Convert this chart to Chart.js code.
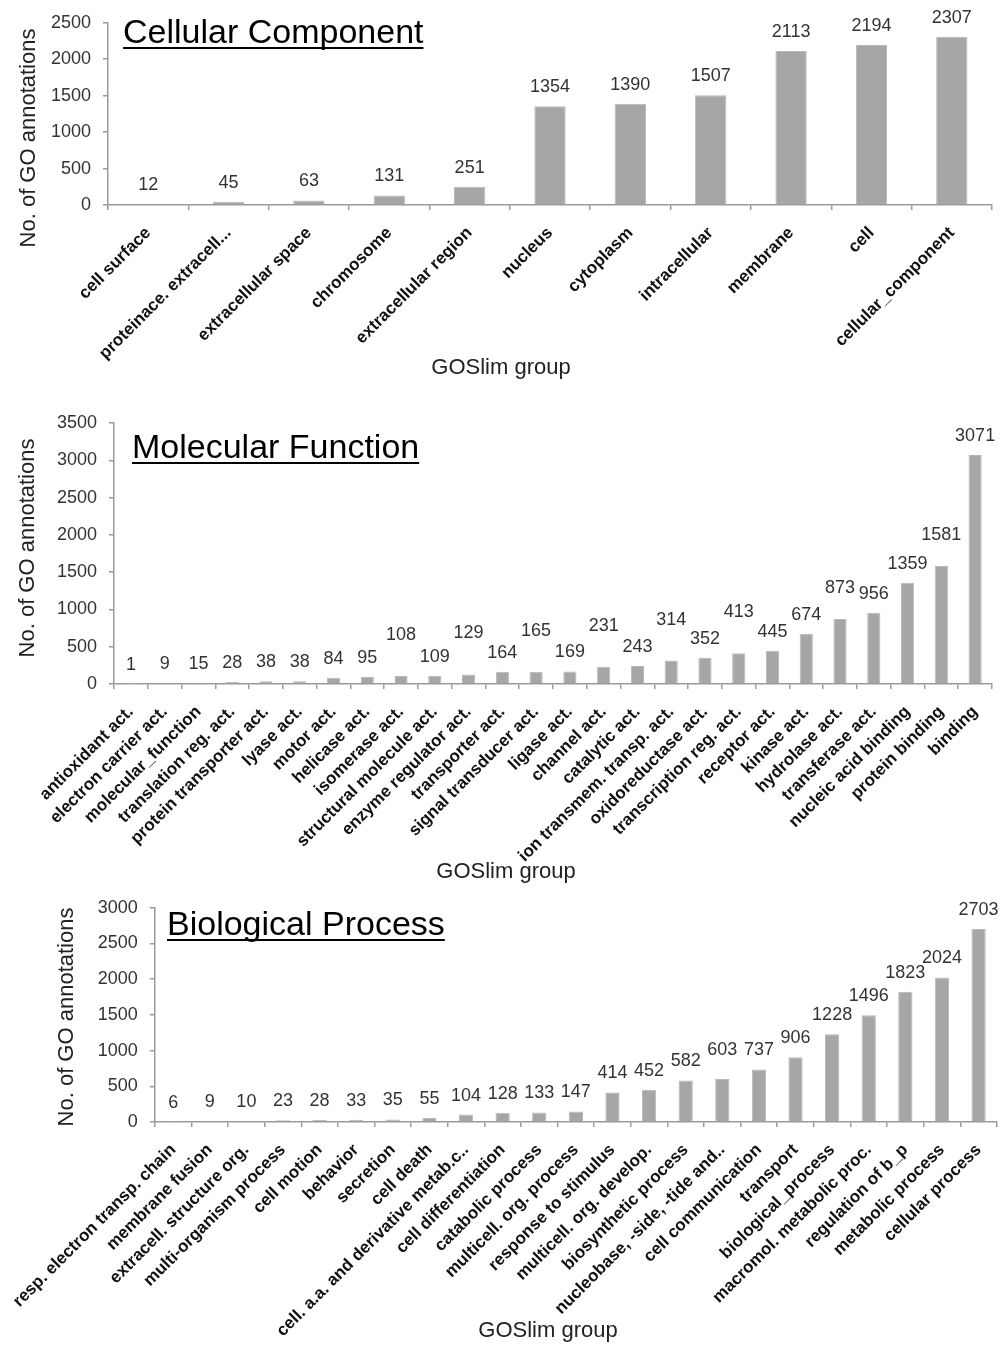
<!DOCTYPE html>
<html>
<head>
<meta charset="utf-8">
<script src="https://cdn.jsdelivr.net/npm/chart.js@4.4.1/dist/chart.umd.min.js"></script>
<style>
  body { margin: 0; background: #fff; }
  #wrap { position: relative; width: 1006px; height: 1345px; }
  canvas { position: absolute; left: 0; }
</style>
</head>
<body>
<div id="wrap">
  <canvas id="ccChart" width="1006" height="390" style="top:0px"></canvas>
  <canvas id="mfChart" width="1006" height="495" style="top:390px"></canvas>
  <canvas id="bpChart" width="1006" height="460" style="top:885px"></canvas>
</div>
<script>
// Cellular Component
const ccLabels = ["cell surface", "proteinace. extracell...", "extracellular space", "chromosome", "extracellular region",
    "nucleus", "cytoplasm", "intracellular", "membrane", "cell", "cellular_component"];
const ccCounts = [12, 45, 63, 131, 251, 1354, 1390, 1507, 2113, 2194, 2307];

// Molecular Function
const mfLabels = ["antioxidant act.", "electron carrier act.", "molecular_function", "translation reg. act.",
    "protein transporter act.", "lyase act.", "motor act.", "helicase act.", "isomerase act.",
    "structural molecule act.", "enzyme regulator act.", "transporter act.", "signal transducer act.",
    "ligase act.", "channel act.", "catalytic act.", "ion transmem. transp. act.", "oxidoreductase act.",
    "transcription reg. act.", "receptor act.", "kinase act.", "hydrolase act.", "transferase act.",
    "nucleic acid binding", "protein binding", "binding"];
const mfCounts = [1, 9, 15, 28, 38, 38, 84, 95, 108, 109, 129, 164, 165, 169, 231, 243, 314, 352, 413, 445,
    674, 873, 956, 1359, 1581, 3071];

// Biological Process
const bpLabels = ["resp. electron transp. chain", "membrane fusion", "extracell. structure org.",
    "multi-organism process", "cell motion", "behavior", "secretion", "cell death",
    "cell. a.a. and derivative metab.c..", "cell differentiation", "catabolic process",
    "multicell. org. process", "response to stimulus", "multicell. org. develop.", "biosynthetic process",
    "nucleobase, -side, -tide and..", "cell communication", "transport", "biological_process",
    "macromol. metabolic proc.", "regulation of b_p", "metabolic process", "cellular process"];
const bpCounts = [6, 9, 10, 23, 28, 33, 35, 55, 104, 128, 133, 147, 414, 452, 582, 603, 737, 906, 1228,
    1496, 1823, 2024, 2703];

const yMaxes = [2500, 3500, 3000];

const FONT = "'Liberation Sans', Arial, sans-serif";
const AXIS = "#9a9a9a";
const BAR = "#a6a6a6";

// value labels, panel heading and axis titles
const panelText = {
    id: "panelText",
    afterDraw(chart, args, opts) {
        const ctx = chart.ctx;
        const meta = chart.getDatasetMeta(0);
        const values = chart.data.datasets[0].data;
        ctx.save();
        ctx.fillStyle = "#333";
        ctx.font = "18px " + FONT;
        ctx.textAlign = "center";
        ctx.textBaseline = "middle";
        meta.data.forEach((bar, i) => {
            const lift = opts.lift[i] || 0;
            ctx.fillText(values[i], bar.x, bar.y - 19 - lift);
        });

        ctx.fillStyle = "#000";
        ctx.font = "34px " + FONT;
        ctx.textAlign = "left";
        ctx.textBaseline = "alphabetic";
        ctx.fillText(opts.heading, opts.headX, opts.headY);
        const w = ctx.measureText(opts.heading).width;
        ctx.fillRect(opts.headX, opts.headY + 4, w, 2);

        ctx.fillStyle = "#222";
        ctx.font = "22px " + FONT;
        ctx.textAlign = "center";
        ctx.textBaseline = "middle";
        ctx.save();
        ctx.translate(opts.yTitleX, opts.yTitleY);
        ctx.rotate(-Math.PI / 2);
        ctx.fillText("No. of GO annotations", 0, 0);
        ctx.restore();
        ctx.fillText("GOSlim group", opts.xTitleX, opts.xTitleY);
        ctx.restore();
    }
};

function makeChart(id, labels, counts, yMax, box, text) {
    return new Chart(document.getElementById(id), {
        type: "bar",
        data: {
            labels: labels,
            datasets: [{
                data: counts, backgroundColor: BAR, borderColor: "#b8b8b8", borderWidth: 1,
                barPercentage: 0.39, categoryPercentage: 1
            }]
        },
        options: {
            responsive: false,
            animation: false,
            devicePixelRatio: 1,
            layout: { padding: { top: box.top, right: 1006 - box.right, left: 0, bottom: 0 } },
            plugins: {
                legend: { display: false },
                tooltip: { enabled: false },
                panelText: text
            },
            scales: {
                x: {
                    grid: { display: true, drawOnChartArea: false, drawTicks: true, tickLength: 5, color: AXIS, lineWidth: 1.5, offset: true },
                    border: { display: true, color: AXIS, width: 1.5 },
                    ticks: {
                        autoSkip: false, maxRotation: 45, minRotation: 45, padding: 13, color: "#111",
                        font: { family: FONT, size: 17, weight: "bold" }
                    },
                    afterFit: s => { s.height = box.h - box.bottom; }
                },
                y: {
                    min: 0, max: yMax,
                    grid: { display: true, drawOnChartArea: false, drawTicks: true, tickLength: 5, color: AXIS, lineWidth: 1.5 },
                    border: { display: true, color: AXIS, width: 1.5 },
                    ticks: {
                        stepSize: 500, padding: 12, color: "#333", font: { family: FONT, size: 18 },
                        callback: v => String(v)
                    },
                    afterFit: s => { s.width = box.left; }
                }
            }
        },
        plugins: [panelText]
    });
}

makeChart("ccChart", ccLabels, ccCounts, yMaxes[0],
    { left: 108, right: 992, top: 19, bottom: 205, h: 390 },
    { heading: "Cellular Component", headX: 123, headY: 43, yTitleX: 29, yTitleY: 138, xTitleX: 501, xTitleY: 368, lift: {} });

makeChart("mfChart", mfLabels, mfCounts, yMaxes[1],
    { left: 114, right: 992, top: 33, bottom: 294, h: 495 },
    { heading: "Molecular Function", headX: 132, headY: 68, yTitleX: 28, yTitleY: 158, xTitleX: 506, xTitleY: 482,
      lift: { 8: 22, 10: 22, 12: 22, 14: 22, 16: 22, 18: 22, 21: 12, 24: 12 } });

makeChart("bpChart", bpLabels, bpCounts, yMaxes[2],
    { left: 152, right: 1003, top: 17, bottom: 237, h: 460 },
    { heading: "Biological Process", headX: 167, headY: 50, yTitleX: 67, yTitleY: 132, xTitleX: 548, xTitleY: 446,
      lift: { 15: 10 } });
</script>
</body>
</html>
